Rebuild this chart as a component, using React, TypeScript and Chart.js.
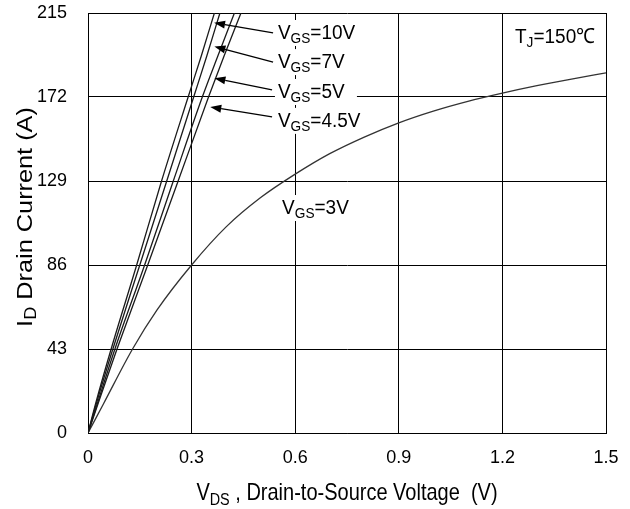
import { useEffect, useRef } from 'react';
import { Chart, registerables } from 'chart.js';
Chart.register(...registerables);

// ---- axis ticks ----
const xTicks = [0, 0.3, 0.6, 0.9, 1.2, 1.5];
const yTicks = [0, 43, 86, 129, 172, 215];

// ---- steep curves: common drain-current levels (A) and VDS (V) per VGS ----
const idLevels = [0, 15, 43, 86, 129, 172, 193, 215];
const vdsVgs10 = [0, 0.022, 0.067, 0.141, 0.213, 0.290, 0.328, 0.366];
const vdsVgs7 = [0, 0.024, 0.072, 0.150, 0.228, 0.306, 0.344, 0.382];
const vdsVgs5 = [0, 0.027, 0.078, 0.164, 0.247, 0.331, 0.376, 0.424];
const vdsVgs45 = [0, 0.029, 0.084, 0.173, 0.261, 0.349, 0.394, 0.443];

// ---- VGS = 3V curve ----
const vdsVgs3 = [0, 0.045, 0.129, 0.2, 0.3, 0.4, 0.5, 0.6, 0.7, 0.8, 0.9, 1.0, 1.1, 1.2, 1.3, 1.4, 1.5];
const idVgs3 = [0, 15, 43, 63, 86, 105.5, 120.5, 132.5, 143, 151.5, 158.8, 164.8, 169.8, 174, 177.8, 181.2, 184.4];

// ---- annotation texts ----
const labelMain = ['V', 'V', 'V', 'V', 'V', 'T'];
const labelSub = ['GS', 'GS', 'GS', 'GS', 'GS', 'J'];
const labelRest = ['=10V', '=7V', '=5V', '=4.5V', '=3V', '=150\u2103'];
const labelBoxed = [true, true, true, true, true, false];
// label anchor (left, baseline) in data coordinates
const labelV = [0.550, 0.550, 0.550, 0.550, 0.562, 1.2365];
const labelI = [201.7, 186.8, 171.5, 156.7, 112.1, 199.5];
// arrows: tail and tip in data coordinates
const arrowTailV = [0.536, 0.536, 0.533, 0.533];
const arrowTailI = [204.8, 189.9, 175.6, 161.8];
const arrowTipV = [0.365, 0.366, 0.366, 0.354];
const arrowTipI = [210.0, 197.8, 181.6, 166.9];

const FONT = '"Liberation Sans", Arial, sans-serif';

type Seg = { t: string; sub?: boolean };

function richWidth(ctx: CanvasRenderingContext2D, segs: Seg[], size: number) {
  let w = 0;
  for (const s of segs) {
    ctx.font = `${s.sub ? size * 0.72 : size}px ${FONT}`;
    w += ctx.measureText(s.t).width;
  }
  return w;
}

function drawRich(ctx: CanvasRenderingContext2D, segs: Seg[], size: number) {
  let cx = 0;
  for (const s of segs) {
    ctx.font = `${s.sub ? size * 0.72 : size}px ${FONT}`;
    ctx.fillText(s.t, cx, s.sub ? size * 0.2 : 0);
    cx += ctx.measureText(s.t).width;
  }
}

const annotPlugin = {
  id: 'annot',
  afterDatasetsDraw(chart: any) {
    const { ctx, chartArea } = chart;
    const xs = chart.scales.x;
    const ys = chart.scales.y;
    ctx.save();
    ctx.textBaseline = 'alphabetic';
    ctx.textAlign = 'left';

    // labels with white boxes
    const size = 19;
    for (let i = 0; i < labelMain.length; i++) {
      const segs: Seg[] = [{ t: labelMain[i] }, { t: labelSub[i], sub: true }, { t: labelRest[i] }];
      const px = xs.getPixelForValue(labelV[i]);
      const py = ys.getPixelForValue(labelI[i]);
      const w = richWidth(ctx, segs, size);
      if (labelBoxed[i]) {
        ctx.fillStyle = '#fff';
        const bw = Math.max(w + 6, 82);
        ctx.fillRect(px - 3, py - 19, bw, 26);
      }
      ctx.save();
      ctx.translate(px, py);
      ctx.scale(1, 1.1);
      ctx.fillStyle = '#000';
      drawRich(ctx, segs, size);
      ctx.restore();
    }

    // arrows
    ctx.strokeStyle = '#000';
    ctx.fillStyle = '#000';
    ctx.lineWidth = 1.3;
    for (let i = 0; i < arrowTailV.length; i++) {
      const x0 = xs.getPixelForValue(arrowTailV[i]);
      const y0 = ys.getPixelForValue(arrowTailI[i]);
      const x1 = xs.getPixelForValue(arrowTipV[i]);
      const y1 = ys.getPixelForValue(arrowTipI[i]);
      const ang = Math.atan2(y1 - y0, x1 - x0);
      const hl = 11, hw = 4;
      const bx = x1 - hl * Math.cos(ang);
      const by = y1 - hl * Math.sin(ang);
      ctx.beginPath();
      ctx.moveTo(x0, y0);
      ctx.lineTo(bx, by);
      ctx.stroke();
      ctx.beginPath();
      ctx.moveTo(x1, y1);
      ctx.lineTo(bx + hw * Math.sin(ang), by - hw * Math.cos(ang));
      ctx.lineTo(bx - hw * Math.sin(ang), by + hw * Math.cos(ang));
      ctx.closePath();
      ctx.fill();
    }

    // x axis title
    ctx.fillStyle = '#000';
    const xt: Seg[] = [{ t: 'V' }, { t: 'DS', sub: true }, { t: ' , Drain-to-Source Voltage  (V)' }];
    const xw = richWidth(ctx, xt, 20);
    ctx.save();
    ctx.translate((chartArea.left + chartArea.right) / 2 - xw / 2, 500);
    ctx.scale(1, 1.18);
    drawRich(ctx, xt, 20);
    ctx.restore();

    // y axis title
    const yt: Seg[] = [{ t: 'I' }, { t: 'D', sub: true }, { t: ' Drain Current (A)' }];
    const yw = richWidth(ctx, yt, 22);
    ctx.save();
    ctx.translate(32, 217);
    ctx.rotate(-Math.PI / 2);
    ctx.scale(1.15, 1);
    ctx.translate(-yw / 2, 0);
    drawRich(ctx, yt, 22);
    ctx.restore();

    ctx.restore();
  },
};

export default function App() {
  const ref = useRef<HTMLCanvasElement>(null);
  useEffect(() => {
    if (!ref.current) return;
    const steep = (v: number[]) => v.map((vv, i) => ({ x: vv, y: idLevels[i] }));
    const lineStyle = {
      borderColor: '#1a1a1a',
      borderWidth: 1.3,
      pointRadius: 0,
      fill: false,
      cubicInterpolationMode: 'monotone' as const,
    };
    const chart = new Chart(ref.current, {
      type: 'line',
      data: {
        datasets: [
          { label: 'VGS=10V', data: steep(vdsVgs10), ...lineStyle },
          { label: 'VGS=7V', data: steep(vdsVgs7), ...lineStyle },
          { label: 'VGS=5V', data: steep(vdsVgs5), ...lineStyle },
          { label: 'VGS=4.5V', data: steep(vdsVgs45), ...lineStyle },
          {
            label: 'VGS=3V',
            data: vdsVgs3.map((v, i) => ({ x: v, y: idVgs3[i] })),
            ...lineStyle,
            borderColor: '#333',
          },
        ],
      },
      options: {
        animation: false,
        responsive: false,
        layout: { padding: { left: 0, top: 13, right: 24, bottom: 0 } },
        plugins: { legend: { display: false }, tooltip: { enabled: false } },
        scales: {
          x: {
            type: 'linear',
            min: 0,
            max: 1.5,
            afterBuildTicks: (s: any) => {
              s.ticks = xTicks.map((v) => ({ value: v }));
            },
            afterFit: (s: any) => {
              s.height = 76;
              s.paddingLeft = 0;
              s.paddingRight = 0;
              s.paddingTop = 0;
              s.paddingBottom = 0;
            },
            ticks: {
              padding: 14,
              color: '#000',
              font: { family: FONT, size: 18 },
              maxRotation: 0,
              callback: (v: any) => (Number(v) === 0 ? '0' : Number(v).toFixed(1)),
            },
            grid: { color: '#000', lineWidth: 1, drawTicks: false },
            border: { display: true, color: '#000', width: 1 },
          },
          y: {
            type: 'linear',
            min: 0,
            max: 215,
            afterBuildTicks: (s: any) => {
              s.ticks = yTicks.map((v) => ({ value: v }));
            },
            afterFit: (s: any) => {
              s.width = 88;
              s.paddingLeft = 0;
              s.paddingRight = 0;
              s.paddingTop = 0;
              s.paddingBottom = 0;
            },
            ticks: {
              padding: 21,
              color: '#000',
              font: { family: FONT, size: 18 },
              callback: (v: any) => String(v),
            },
            grid: { color: '#000', lineWidth: 1, drawTicks: false },
            border: { display: true, color: '#000', width: 1 },
          },
        },
      },
      plugins: [annotPlugin],
    });
    return () => chart.destroy();
  }, []);
  return (
    <div style={{ position: 'fixed', left: 0, top: 0, width: 630, height: 509, background: '#fff' }}>
      <canvas ref={ref} width={630} height={509} />
    </div>
  );
}
